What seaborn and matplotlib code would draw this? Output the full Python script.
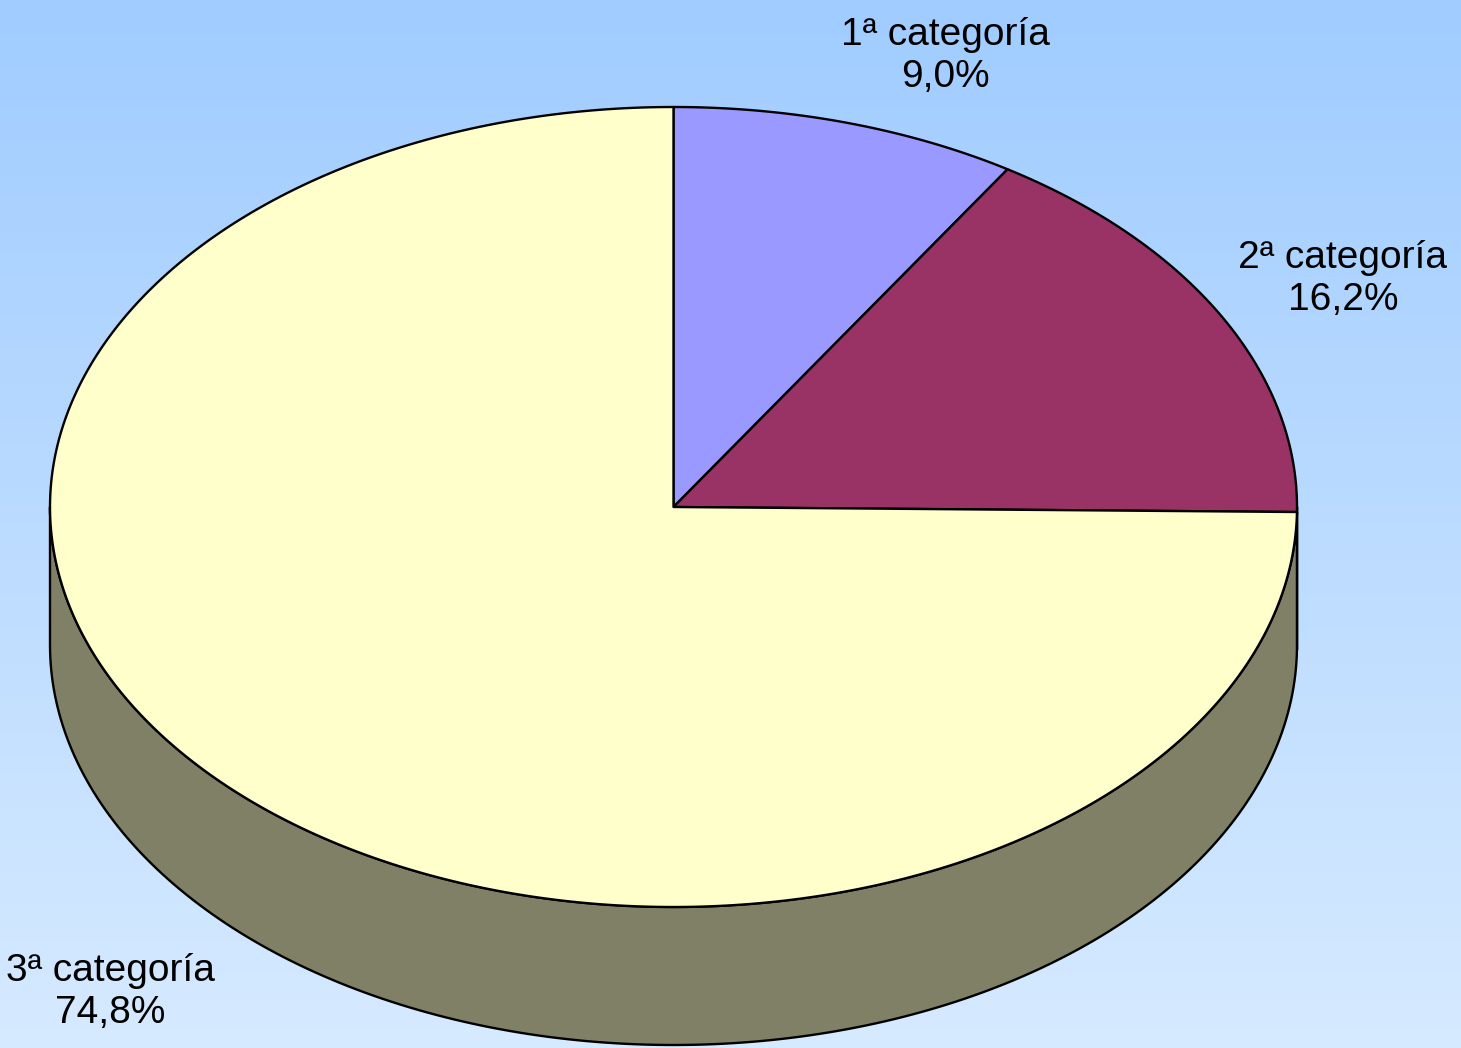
import numpy as np
import matplotlib
matplotlib.use("Agg")
import matplotlib.pyplot as plt
import seaborn as sns
from matplotlib.patches import Polygon

# datos
categorias = ["1ª categoría", "2ª categoría", "3ª categoría"]
porcentajes = [9.0, 16.2, 74.8]
colores = ["#9999FF", "#993366", "#FFFFCC"]

sns.set_style("white")
plt.rcParams['font.family'] = ['Liberation Sans', 'DejaVu Sans']

W, H = 1461, 1048
fig = plt.figure(figsize=(W / 100, H / 100), dpi=100)
ax = fig.add_axes([0, 0, 1, 1])
ax.set_xlim(0, W)
ax.set_ylim(H, 0)
ax.axis("off")

# fondo degradado
top = np.array([160, 204, 255]) / 255
bot = np.array([214, 234, 255]) / 255
t = np.linspace(0, 1, 256)[:, None]
grad = (top * (1 - t) + bot * t)[:, None, :]
ax.imshow(grad, extent=[0, W, H, 0], aspect="auto", zorder=0)

# geometría del pastel
cx, cy, rx, ry, depth = 673.5, 507, 623.5, 400, 138


def ellipse_pt(theta, dz=0.0):
    th = np.radians(theta)
    return np.column_stack([cx + rx * np.cos(th), cy - ry * np.sin(th) + dz])


def darker(c, f=0.5):
    rgb = np.array(matplotlib.colors.to_rgb(c))
    return tuple(rgb * f)


fracs = np.array(porcentajes) / sum(porcentajes)
bordes = 90 - 360 * np.concatenate([[0], np.cumsum(fracs)])

# paredes laterales (mitad frontal, ángulos -180..0)
for i in range(len(fracs)):
    a0, a1 = bordes[i], bordes[i + 1]
    lo, hi = min(a0, a1), max(a0, a1)
    for shift in (0, -360, 360):
        l, h = max(lo + shift, -180), min(hi + shift, 0)
        if h > l:
            th = np.linspace(h, l, 200)
            upper = ellipse_pt(th)
            lower = ellipse_pt(th[::-1], depth)
            poly = Polygon(np.vstack([upper, lower]), closed=True,
                           facecolor=darker(colores[i]), edgecolor="black",
                           linewidth=1.7, zorder=2, joinstyle="round")
            ax.add_patch(poly)

# caras superiores
for i in range(len(fracs)):
    th = np.linspace(bordes[i], bordes[i + 1], 400)
    pts = np.vstack([[cx, cy], ellipse_pt(th)])
    ax.add_patch(Polygon(pts, closed=True, facecolor=colores[i],
                         edgecolor="black", linewidth=1.7, zorder=3,
                         joinstyle="round"))

# etiquetas
pos_etiquetas = [(945, 56), (1343, 279), (110, 992)]
for cat, p, (x, y) in zip(categorias, porcentajes, pos_etiquetas):
    txt = f"{cat}\n{p:.1f}%".replace(".", ",")
    ax.text(x, y, txt, ha="center", va="center", fontsize=28,
            linespacing=1.22, color="black", zorder=5)

fig.savefig("out.png", dpi=100)
